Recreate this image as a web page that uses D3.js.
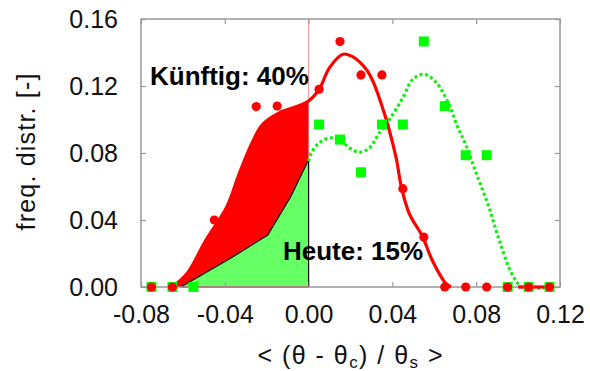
<!DOCTYPE html>
<html><head><meta charset="utf-8">
<script src="https://cdn.jsdelivr.net/npm/d3@7/dist/d3.min.js"></script>
<style>
body{margin:0;background:#fff;}
text{font-family:"Liberation Sans",Arial,Helvetica,sans-serif;}
</style></head><body>
<svg id="chart" width="590" height="371"></svg>
<script>
// ---- data ----
const xTicks = [-0.08, -0.04, 0.00, 0.04, 0.08, 0.12];
const yTicks = [0.00, 0.04, 0.08, 0.12, 0.16];

// future ("Künftig") measured points
const futureX = [-0.075,-0.065,-0.045,-0.025,-0.015,0.005,0.015,0.025,0.035,0.045,0.055,0.065,0.075,0.085,0.095,0.105,0.115];
const futureY = [0,0,0.040,0.1077,0.108,0.118,0.1465,0.1266,0.1266,0.0587,0.0298,0,0,0,0,0,0];

// today ("Heute") measured points
const todayX = [-0.075,-0.065,-0.055,0.005,0.015,0.025,0.035,0.045,0.055,0.065,0.075,0.085,0.095,0.105,0.115];
const todayY = [0,0,0,0.097,0.088,0.0685,0.097,0.097,0.1466,0.108,0.0787,0.0787,0,0,0];

// smoothed future curve
const futureCurveX = [-0.065,-0.058,-0.049,-0.039,-0.033,-0.027,-0.022,-0.014,-0.005,0.000,0.005,0.010,0.0164,0.021,0.0275,0.031,0.0345,0.038,0.0418,0.0444,0.048,0.0544,0.059,0.0656,0.068];
const futureCurveY = [0,0.008,0.028,0.048,0.068,0.086,0.097,0.104,0.108,0.111,0.118,0.131,0.139,0.1375,0.130,0.122,0.110,0.096,0.077,0.059,0.044,0.030,0.016,0.002,0];
const futureTailX = [0.100, 0.115];
const futureTailY = [0, 0];

// smoothed today curve
const todayCurveX = [0.000,0.0013,0.005,0.010,0.0148,0.0195,0.0243,0.029,0.0338,0.0386,0.045,0.0497,0.0552,0.061,0.067,0.071,0.075,0.080,0.086,0.091,0.097,0.102,0.115];
const todayCurveY = [0.075,0.080,0.086,0.089,0.088,0.083,0.0805,0.083,0.092,0.100,0.113,0.124,0.127,0.122,0.109,0.096,0.085,0.068,0.048,0.028,0.008,0,0];

// cumulative-share area for today (left of 0)
const todayAreaX = [-0.061,-0.0375,-0.0195,-0.0085,0.000];
const todayAreaY = [0,0.017,0.031,0.054,0.076];

const labelFuture = "Künftig: 40%";
const labelToday = "Heute: 15%";

// ---- drawing ----
const svg = d3.select("#chart");
const L = 141, R = 560, T = 19, B = 287;
const x = d3.scaleLinear().domain([-0.08, 0.12]).range([L, R]);
const y = d3.scaleLinear().domain([0, 0.16]).range([B, T]);
const fmt = d => d.toFixed(2);

const zip = (a, b) => a.map((v, i) => [v, b[i]]);
const futCurve = zip(futureCurveX, futureCurveY);
const todCurve = zip(todayCurveX, todayCurveY);

const curve = d3.curveCatmullRom.alpha(0.5);

// vertical line at 0
svg.append("line").attr("x1", x(0)).attr("x2", x(0)).attr("y1", T).attr("y2", y(0.11))
  .attr("stroke", "#ff9090").attr("stroke-width", 1);

// red fill under future curve for x<=0
const futFill = futCurve.filter(d => d[0] <= 0);
svg.append("path").datum(futFill)
  .attr("d", d3.area().x(d => x(d[0])).y0(y(0)).y1(d => y(d[1])).curve(curve))
  .attr("fill", "#ff0000");

// green area
const todArea = zip(todayAreaX, todayAreaY);
svg.append("path").datum(todArea)
  .attr("d", d3.area().x(d => x(d[0])).y0(y(0)).y1(d => y(d[1])))
  .attr("fill", "#66ff66");
svg.append("path").datum(todArea.concat([[0, 0]]))
  .attr("d", d3.line().x(d => x(d[0])).y(d => y(d[1])))
  .attr("fill", "none").attr("stroke", "#000").attr("stroke-width", 1.2);
svg.append("line").attr("x1", x(todayAreaX[0])).attr("x2", x(0)).attr("y1", y(0)).attr("y2", y(0))
  .attr("stroke", "#ff0000").attr("stroke-width", 1.5);

// frame and ticks
const fg = svg.append("g");
const tickCol = "#999";
fg.append("g").attr("transform", `translate(${L},0)`)
  .call(d3.axisLeft(y).tickValues(yTicks).tickSize(-5).tickPadding(23).tickFormat(fmt));
fg.append("g").attr("transform", `translate(${R},0)`)
  .call(d3.axisRight(y).tickValues(yTicks).tickSize(-5).tickFormat(""));
fg.append("g").attr("transform", `translate(0,${B})`)
  .call(d3.axisBottom(x).tickValues(xTicks).tickSize(-5).tickPadding(18).tickFormat(fmt));
fg.append("g").attr("transform", `translate(0,${T})`)
  .call(d3.axisTop(x).tickValues(xTicks).tickSize(-5).tickFormat(""));
fg.selectAll(".domain").remove();
fg.selectAll(".tick line").attr("stroke", tickCol).attr("stroke-width", 1.2);
fg.selectAll(".tick text").attr("font-size", 25).attr("fill", "#111")
  .style("font-family", '"Liberation Sans",Arial,Helvetica,sans-serif');
fg.append("rect").attr("x", L).attr("y", T).attr("width", R - L).attr("height", B - T)
  .attr("fill", "none").attr("stroke", tickCol).attr("stroke-width", 1.5);

// today dotted curve
svg.append("path").datum(todCurve)
  .attr("d", d3.line().x(d => x(d[0])).y(d => y(d[1])).curve(curve))
  .attr("fill", "none").attr("stroke", "#11ee11").attr("stroke-width", 3.2)
  .attr("stroke-dasharray", "3,2.6");

// future curve
svg.append("path").datum(futCurve)
  .attr("d", d3.line().x(d => x(d[0])).y(d => y(d[1])).curve(curve))
  .attr("fill", "none").attr("stroke", "#ff0000").attr("stroke-width", 3.2);
svg.append("path").datum(zip(futureTailX, futureTailY))
  .attr("d", d3.line().x(d => x(d[0])).y(d => y(d[1])))
  .attr("fill", "none").attr("stroke", "#ff0000").attr("stroke-width", 3.2);

// today squares
svg.append("g").selectAll("rect").data(zip(todayX, todayY)).join("rect")
  .attr("x", d => x(d[0]) - 5).attr("y", d => y(d[1]) - 5)
  .attr("width", 10).attr("height", 10).attr("fill", "#00ff00");

// future circles
svg.append("g").selectAll("circle").data(zip(futureX, futureY)).join("circle")
  .attr("cx", d => x(d[0])).attr("cy", d => y(d[1])).attr("r", 4.6).attr("fill", "#ff0000");

// annotations
svg.append("text").attr("x", 150).attr("y", 85).attr("font-size", 26).attr("font-weight", "bold")
  .attr("fill", "#000").text(labelFuture);
svg.append("text").attr("x", 283).attr("y", 260).attr("font-size", 26).attr("font-weight", "bold")
  .attr("fill", "#000").text(labelToday);

// axis titles
svg.append("text").attr("transform", "translate(35,152) rotate(-90)")
  .attr("text-anchor", "middle").attr("font-size", 25).attr("fill", "#111")
  .attr("textLength", 157).attr("lengthAdjust", "spacing")
  .text("freq. distr. [-]");

const xt = svg.append("text").attr("x", 350).attr("y", 364).attr("text-anchor", "middle")
  .attr("font-size", 25).attr("fill", "#111").attr("textLength", 185).attr("lengthAdjust", "spacing");
xt.append("tspan").text("< (θ - θ");
xt.append("tspan").attr("font-size", 17).attr("dy", 4).text("c");
xt.append("tspan").attr("dy", -4).text(") / θ");
xt.append("tspan").attr("font-size", 17).attr("dy", 4).text("s");
xt.append("tspan").attr("dy", -4).text(" >");
</script>
</body></html>
